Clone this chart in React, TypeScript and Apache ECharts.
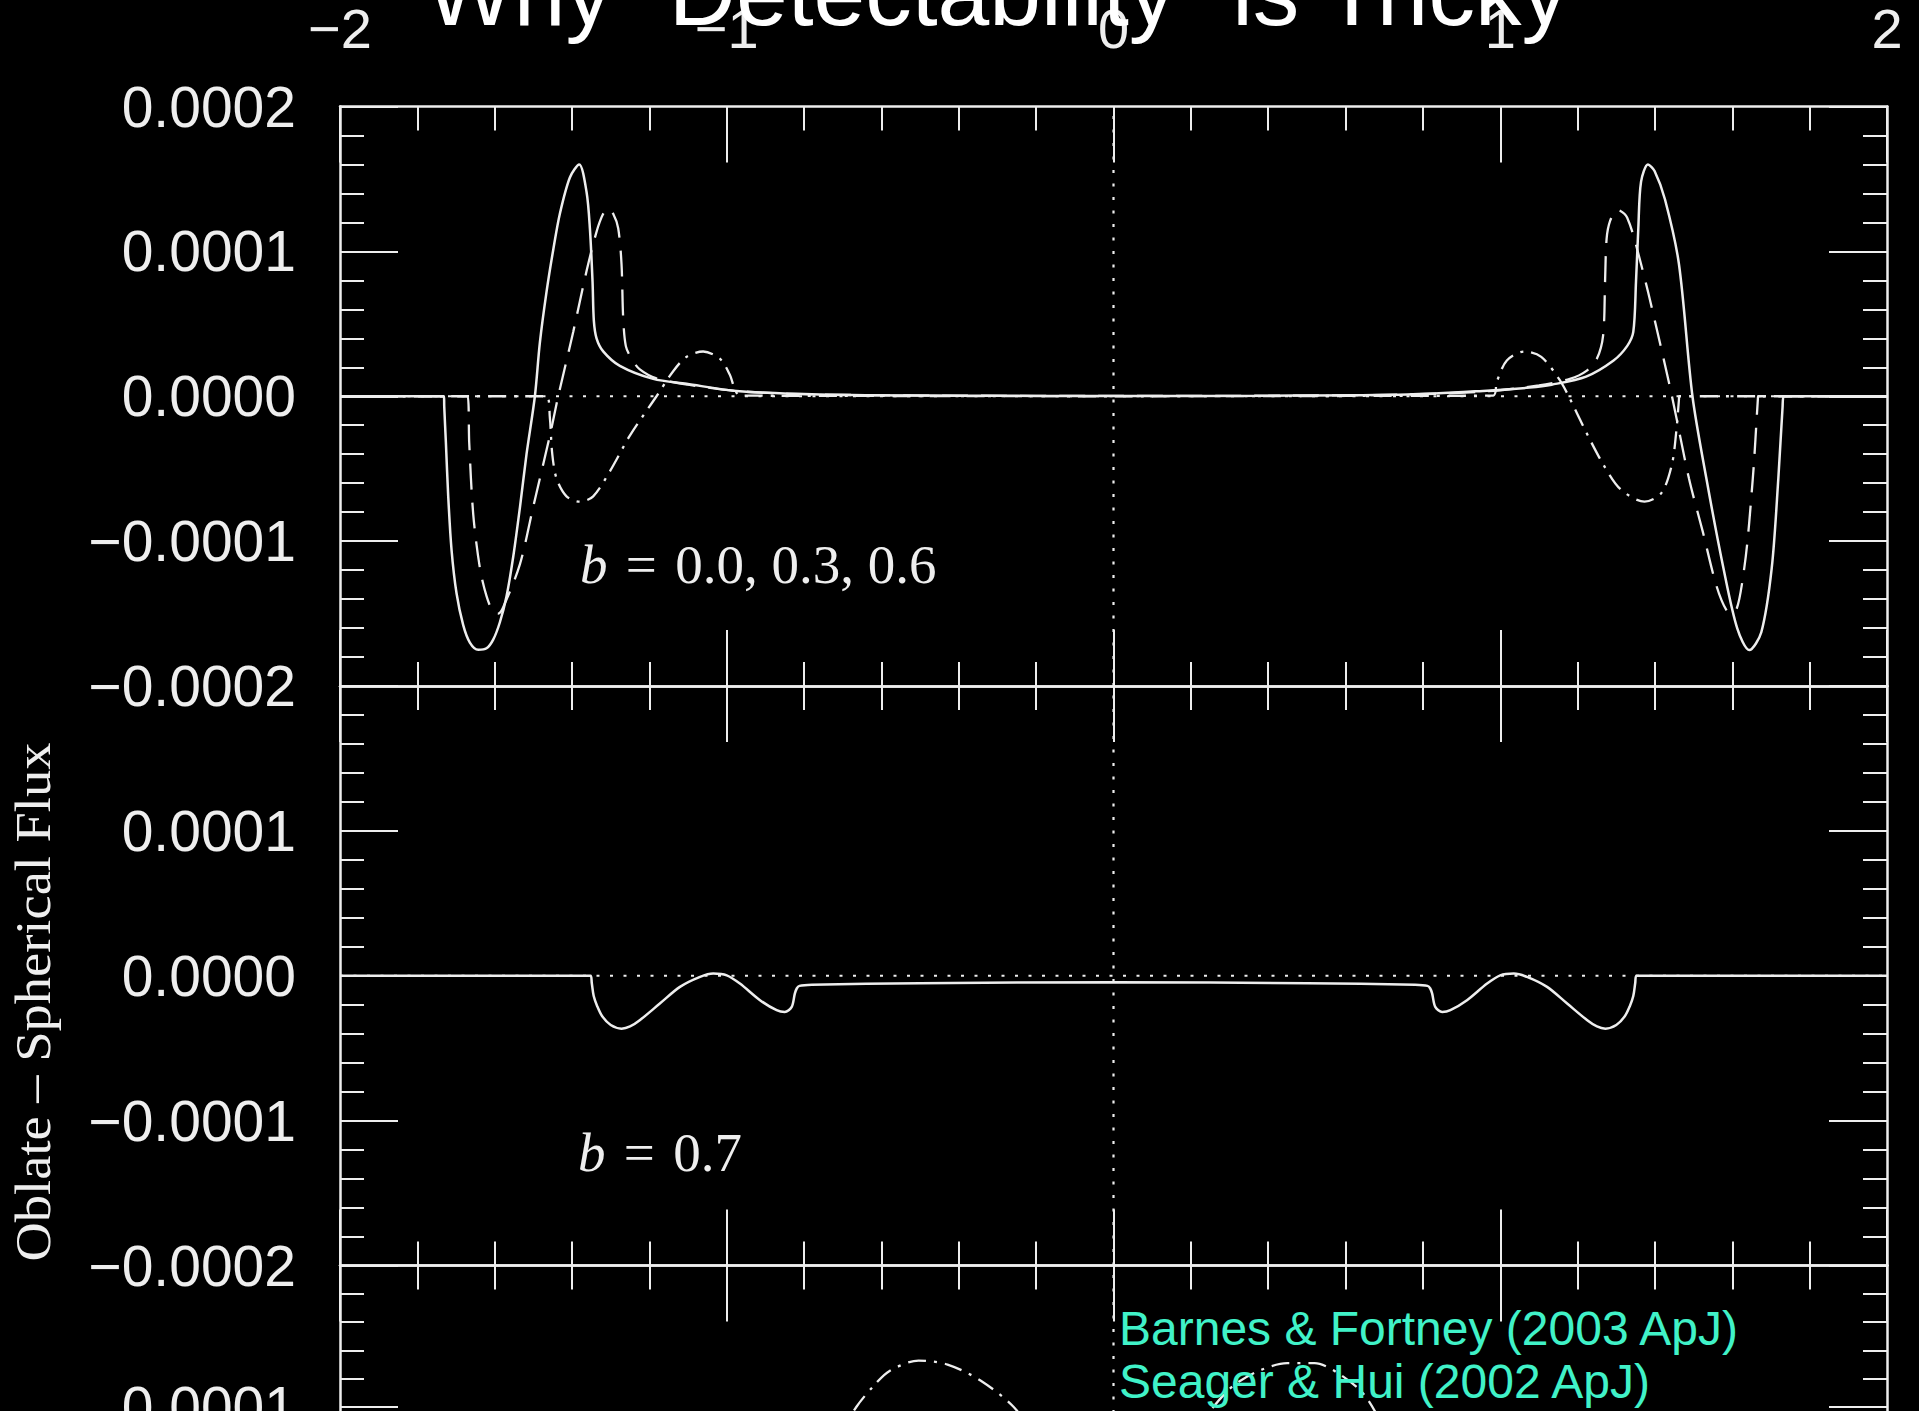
import React, { useEffect, useRef } from "react";
import * as echarts from "echarts";

// Oblate minus spherical transit flux vs. time (three stacked panels).

// Panel 1: impact parameter b = 0.0 (solid), 0.3 (dashed), 0.6 (dash-dot)
const fluxB00: [number, number][] = [
  [-2.0, 0], [-1.731, 0], [-1.7305, -0.07e-4], [-1.7262, -0.32e-4], [-1.7202, -0.69e-4],
  [-1.7116, -1.06e-4], [-1.6987, -1.36e-4], [-1.6814, -1.58e-4], [-1.6642, -1.7e-4],
  [-1.6426, -1.75e-4], [-1.6211, -1.74e-4], [-1.6039, -1.68e-4], [-1.5866, -1.56e-4],
  [-1.5694, -1.38e-4], [-1.5522, -1.11e-4], [-1.5349, -0.77e-4], [-1.5177, -0.4e-4],
  [-1.4961, 0], [-1.4832, 0.37e-4], [-1.466, 0.72e-4], [-1.4487, 1.01e-4], [-1.4315, 1.26e-4],
  [-1.4056, 1.51e-4], [-1.3815, 1.6e-4], [-1.3625, 1.41e-4], [-1.3539, 1.16e-4],
  [-1.347, 0.79e-4], [-1.3436, 0.52e-4], [-1.3367, 0.4e-4], [-1.3195, 0.31e-4],
  [-1.2764, 0.21e-4], [-1.1902, 0.12e-4], [-1.104, 0.086e-4], [-0.9747, 0.037e-4],
  [-0.7593, 0.012e-4], [-0.4, 0.004e-4], [0, 0.002e-4], [0.4, 0.004e-4], [0.76, 0.012e-4],
  [0.955, 0.037e-4], [1.076, 0.06e-4], [1.133, 0.08e-4], [1.222, 0.136e-4], [1.293, 0.247e-4],
  [1.328, 0.346e-4], [1.344, 0.444e-4], [1.351, 0.79e-4], [1.357, 1.16e-4], [1.364, 1.48e-4],
  [1.382, 1.6e-4], [1.399, 1.555e-4], [1.426, 1.358e-4], [1.462, 0.913e-4], [1.497, 0],
  [1.533, -0.568e-4], [1.577, -1.185e-4], [1.613, -1.604e-4], [1.644, -1.752e-4],
  [1.675, -1.629e-4], [1.702, -1.185e-4], [1.719, -0.568e-4], [1.73, -0.074e-4], [1.733, 0], [2.0, 0],
];

const fluxB03: [number, number][] = [
  [-2.0, 0], [-1.6702, 0], [-1.6659, -0.32e-4], [-1.6555, -0.815e-4], [-1.6383, -1.185e-4],
  [-1.6211, -1.38e-4], [-1.6039, -1.49e-4], [-1.5909, -1.5e-4], [-1.578, -1.456e-4],
  [-1.5349, -1.16e-4], [-1.5005, -0.765e-4], [-1.4574, -0.272e-4], [-1.4358, 0],
  [-1.397, 0.444e-4], [-1.3625, 0.864e-4], [-1.3367, 1.135e-4], [-1.3195, 1.259e-4],
  [-1.3065, 1.296e-4], [-1.2936, 1.259e-4], [-1.2807, 1.16e-4], [-1.2721, 0.913e-4],
  [-1.2678, 0.543e-4], [-1.2609, 0.346e-4], [-1.2462, 0.259e-4], [-1.2247, 0.185e-4],
  [-1.1816, 0.123e-4], [-1.1, 0.08e-4], [-0.97, 0.035e-4], [-0.76, 0.012e-4], [-0.4, 0.004e-4],
  [0, 0.002e-4], [0.4, 0.004e-4], [0.76, 0.012e-4], [0.97, 0.035e-4], [1.1, 0.075e-4],
  [1.18, 0.12e-4], [1.222, 0.173e-4], [1.25, 0.26e-4], [1.266, 0.42e-4], [1.271, 0.79e-4],
  [1.275, 1.086e-4], [1.284, 1.21e-4], [1.302, 1.288e-4], [1.328, 1.234e-4], [1.364, 0.913e-4],
  [1.4, 0.518e-4], [1.444, 0], [1.488, -0.568e-4], [1.524, -0.938e-4], [1.559, -1.308e-4],
  [1.586, -1.481e-4], [1.604, -1.493e-4], [1.631, -1.185e-4], [1.653, -0.568e-4],
  [1.666, -0.025e-4], [1.667, 0], [2.0, 0],
];

const fluxB06: [number, number][] = [
  [-2.0, 0], [-1.466, 0], [-1.4574, -0.148e-4], [-1.4513, -0.395e-4], [-1.4401, -0.568e-4],
  [-1.4143, -0.691e-4], [-1.3798, -0.728e-4], [-1.3453, -0.691e-4], [-1.3022, -0.518e-4],
  [-1.2505, -0.272e-4], [-1.1816, 0], [-1.1385, 0.173e-4], [-1.104, 0.272e-4],
  [-1.0609, 0.309e-4], [-1.0178, 0.259e-4], [-0.992, 0.148e-4], [-0.9791, 0.049e-4],
  [-0.9662, 0.005e-4], [-0.6, 0.002e-4], [0, 0], [0.6, 0.002e-4], [0.982, 0.005e-4],
  [0.991, 0.099e-4], [1.017, 0.247e-4], [1.062, 0.309e-4], [1.106, 0.272e-4], [1.151, 0.123e-4],
  [1.177, 0], [1.222, -0.247e-4], [1.266, -0.469e-4], [1.311, -0.642e-4], [1.373, -0.728e-4],
  [1.417, -0.667e-4], [1.444, -0.469e-4], [1.455, -0.247e-4], [1.462, -0.025e-4], [1.463, 0],
  [2.0, 0],
];

// Panel 2: b = 0.7
const fluxB07: [number, number][] = [
  [-2.0, 0], [-1.352, 0], [-1.349, -0.05e-4], [-1.344, -0.14e-4], [-1.335, -0.21e-4],
  [-1.322, -0.28e-4], [-1.3, -0.34e-4], [-1.272, -0.365e-4], [-1.25, -0.35e-4],
  [-1.225, -0.307e-4], [-1.173, -0.192e-4], [-1.121, -0.077e-4], [-1.069, -0.008e-4],
  [-1.035, 0.015e-4], [-1.0, 0.003e-4], [-0.966, -0.054e-4], [-0.914, -0.169e-4],
  [-0.871, -0.238e-4], [-0.85, -0.25e-4], [-0.832, -0.215e-4], [-0.824, -0.123e-4],
  [-0.819, -0.088e-4], [-0.812, -0.07e-4], [-0.78, -0.062e-4], [-0.5, -0.052e-4],
  [0, -0.045e-4], [0.5, -0.052e-4], [0.78, -0.062e-4], [0.812, -0.07e-4], [0.819, -0.088e-4],
  [0.824, -0.123e-4], [0.832, -0.215e-4], [0.85, -0.25e-4], [0.871, -0.238e-4],
  [0.914, -0.169e-4], [0.966, -0.054e-4], [1.0, 0.003e-4], [1.035, 0.015e-4],
  [1.069, -0.008e-4], [1.121, -0.077e-4], [1.173, -0.192e-4], [1.225, -0.307e-4],
  [1.25, -0.35e-4], [1.272, -0.365e-4], [1.3, -0.34e-4], [1.322, -0.28e-4], [1.335, -0.21e-4],
  [1.344, -0.14e-4], [1.349, -0.05e-4], [1.352, 0], [2.0, 0],
];

// Panel 3: upper parts of the two arcs that reach into view
const lowerArcLeft: [number, number][] = [
  [-0.72, 0.75e-4], [-0.665, 1.0e-4], [-0.62, 1.15e-4], [-0.579, 1.255e-4], [-0.504, 1.328e-4],
  [-0.429, 1.3e-4], [-0.343, 1.186e-4], [-0.258, 1.0e-4], [-0.2, 0.78e-4],
];
const lowerArcRight: [number, number][] = [
  [0.2, 0.78e-4], [0.258, 1.0e-4], [0.311, 1.153e-4], [0.38, 1.26e-4], [0.449, 1.31e-4],
  [0.52, 1.31e-4], [0.58, 1.24e-4], [0.647, 1.091e-4], [0.7, 0.85e-4],
];

const TIME_MIN = -2;
const TIME_MAX = 2;
const FLUX_MIN = -0.0002;
const FLUX_MAX = 0.0002;
const FLUX_STEP = 0.0001;

const TITLE = "Why \u201cDetectability\u201d is Tricky";
const Y_NAME = "Oblate \u2013 Spherical Flux";
const PANEL_NOTES = ["{i|b}\u2004=\u20040.0, 0.3, 0.6", "{i|b}\u2004=\u20040.7"];
const CITATIONS = ["Barnes & Fortney (2003 ApJ)", "Seager & Hui (2002 ApJ)"];

const FG = "#eeeeee";
const CYAN = "#40f2c8";
const SANS = "'Liberation Sans', Arial, sans-serif";
const SERIF = "'Liberation Serif', 'Times New Roman', serif";

const DASHED = [26, 13];
const DASH_DOT = [18, 8, 3, 8];
const DOTTED = [3, 10.5];

const VIEW_W = 1919;
const VIEW_H = 1411;
const CHART_H = 1860; // the third panel runs past the bottom edge of the view
const GRID_LEFT = 340;
const GRID_RIGHT = 32;
const PANEL_TOPS = [106.5, 686, 1265.5];
const PANEL_H = 579.5;

const fmtFlux = (v: number) => {
  if (Math.abs(v) < 1e-12) return "0.0000";
  const s = Math.abs(v).toFixed(4);
  return v < 0 ? "\u2212" + s : s;
};
const fmtTime = (v: number) => (v < 0 ? "\u2212" + Math.abs(v) : String(v));

function buildOption() {
  const tickStyle = { color: FG, width: 2 };
  const xAxes: any[] = [];
  const yAxes: any[] = [];
  PANEL_TOPS.forEach((_, g) => {
    ["bottom", "top"].forEach((pos) => {
      const labelled = g === 0 && pos === "top";
      xAxes.push({
        type: "value",
        gridIndex: g,
        position: pos,
        min: TIME_MIN,
        max: TIME_MAX,
        interval: 1,
        axisLine: { show: true, onZero: false, lineStyle: { color: FG, width: 2.5 } },
        axisTick: { show: true, inside: true, length: 56, lineStyle: tickStyle },
        minorTick: { show: true, splitNumber: 5, length: 24, lineStyle: tickStyle },
        splitLine: { show: false },
        axisLabel: labelled
          ? { show: true, margin: 50, fontSize: 56, fontFamily: SANS, color: FG, formatter: fmtTime }
          : { show: false },
      });
    });
    ["left", "right"].forEach((pos) => {
      const labelled = pos === "left";
      yAxes.push({
        type: "value",
        gridIndex: g,
        position: pos,
        min: FLUX_MIN,
        max: FLUX_MAX,
        interval: FLUX_STEP,
        axisLine: { show: true, onZero: false, lineStyle: { color: FG, width: 2.5 } },
        axisTick: { show: true, inside: true, length: 58, lineStyle: tickStyle },
        minorTick: { show: true, splitNumber: 5, length: 24, lineStyle: tickStyle },
        splitLine: { show: false },
        axisLabel: labelled
          ? {
              show: true,
              margin: 44,
              fontSize: 57,
              fontFamily: SANS,
              color: FG,
              formatter: fmtFlux,
              showMaxLabel: g === 0,
            }
          : { show: false },
      });
    });
  });

  const line = (data: [number, number][], g: number, type: any, width = 2.5, smooth: number | boolean = 0.3) => ({
    type: "line",
    data,
    xAxisIndex: g * 2,
    yAxisIndex: g * 2,
    symbol: "none",
    smooth,
    silent: true,
    clip: true,
    lineStyle: { color: FG, width, type, cap: "butt" },
    z: 3,
  });

  const series: any[] = [];
  PANEL_TOPS.forEach((_, g) => {
    series.push(line([[TIME_MIN, 0], [TIME_MAX, 0]], g, DOTTED, 2.2, false));
    series.push(line([[0, FLUX_MIN], [0, FLUX_MAX]], g, DOTTED, 2.2, false));
  });
  series.push(line(fluxB06, 0, DASH_DOT, 2.3));
  series.push(line(fluxB03, 0, DASHED, 2.3));
  series.push(line(fluxB00, 0, "solid", 2.5));
  series.push(line(fluxB07, 1, "solid", 2.5));
  series.push(line(lowerArcLeft, 2, DASH_DOT, 2.3));
  series.push(line(lowerArcRight, 2, DASH_DOT, 2.3));

  const noteStyle = (text: string) => ({
    text,
    fill: FG,
    fontSize: 55,
    fontFamily: SERIF,
    align: "left",
    verticalAlign: "middle",
    rich: { i: { fontStyle: "italic", fontSize: 55, fontFamily: SERIF, fill: FG } },
  });

  const graphic: any[] = [
    {
      type: "text",
      x: 997,
      y: -7,
      z: 10,
      style: { text: TITLE, fill: "#ffffff", fontSize: 93, fontFamily: SANS, align: "center", verticalAlign: "middle" },
    },
    {
      type: "text",
      x: 33,
      y: 1002,
      rotation: Math.PI / 2,
      scaleX: 1.09,
      z: 10,
      style: { text: Y_NAME, fill: FG, fontSize: 50, fontFamily: SERIF, align: "center", verticalAlign: "middle" },
    },
    { type: "text", x: 580, y: 564, z: 10, style: noteStyle(PANEL_NOTES[0]) },
    { type: "text", x: 578, y: 1152, z: 10, style: noteStyle(PANEL_NOTES[1]) },
    ...CITATIONS.map((t, i) => ({
      type: "text",
      x: 1119,
      y: 1328 + i * 53,
      z: 10,
      style: { text: t, fill: CYAN, fontSize: 48, fontFamily: SANS, align: "left", verticalAlign: "middle" },
    })),
  ];

  return {
    animation: false,
    backgroundColor: "#000000",
    grid: PANEL_TOPS.map((top) => ({ left: GRID_LEFT, right: GRID_RIGHT, top, height: PANEL_H, containLabel: false })),
    xAxis: xAxes,
    yAxis: yAxes,
    series,
    graphic,
  };
}

export default function App() {
  const ref = useRef<HTMLDivElement>(null);
  useEffect(() => {
    if (!ref.current) return;
    const chart = echarts.init(ref.current, null, { renderer: "svg" });
    chart.setOption(buildOption() as any);
    return () => chart.dispose();
  }, []);
  return (
    <div
      style={{
        position: "fixed",
        left: 0,
        top: 0,
        width: VIEW_W,
        height: VIEW_H,
        background: "#000",
        overflow: "hidden",
      }}
    >
      <div ref={ref} style={{ width: VIEW_W, height: CHART_H }} />
    </div>
  );
}
